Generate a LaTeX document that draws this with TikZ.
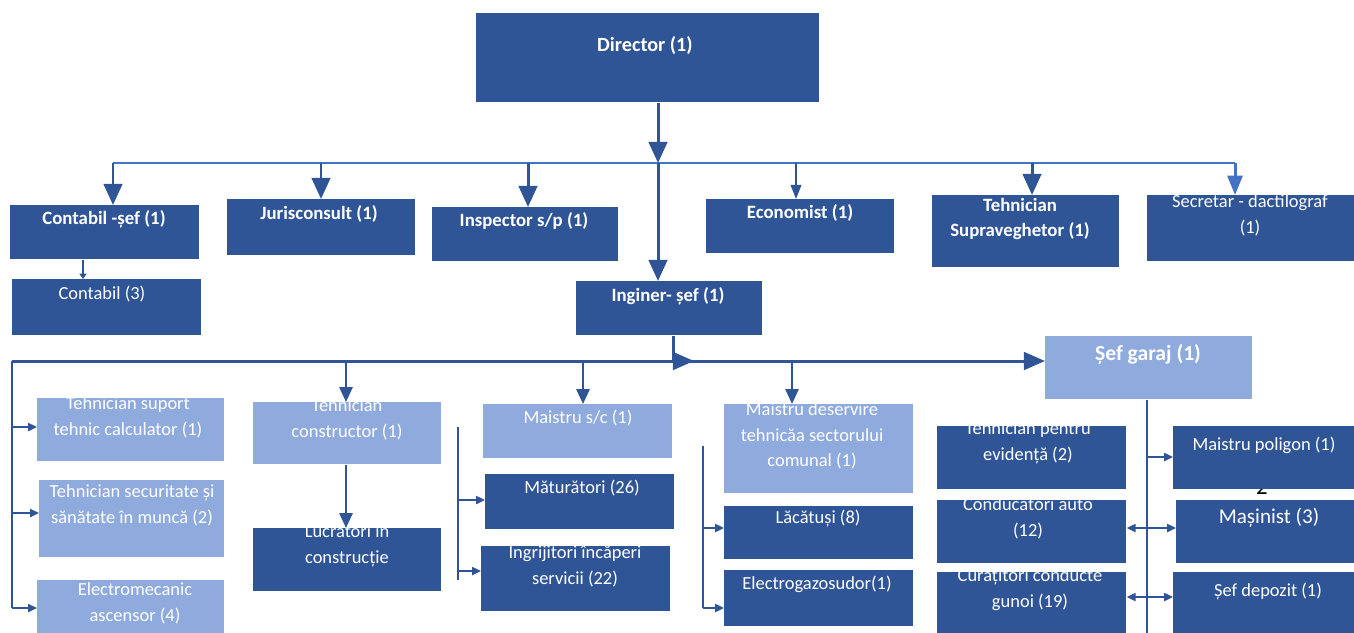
\documentclass[tikz,border=0pt]{standalone}
\usepackage{fontspec}
\setmainfont{Carlito}
\usetikzlibrary{arrows.meta}
\definecolor{dk}{RGB}{47,85,151}
\definecolor{lt}{RGB}{143,170,220}
\definecolor{ln}{RGB}{68,114,196}
\newcommand\bx[6]{\node[#1, anchor=north west, minimum width={(#5-#3)*0.02cm}, minimum height={(#6-#4)*0.02cm}] (#2) at (#3,#4) {};}
\newcommand\tx[5]{\node[#4] (#1) at (#2,#3) {#5};}
\tikzset{
  dbox/.style={fill=dk, draw=none, inner sep=0},
  lbox/.style={fill=lt, draw=none, inner sep=0},
  txt/.style={text=white, inner sep=0, align=center, font=\fontsize{10.5}{14.7}\selectfont},
  btxt/.style={txt, font=\bfseries\fontsize{10.7}{14.7}\selectfont},
  busA/.style={draw=ln, line width=1.5pt},
  big/.style={draw=dk, line width=1.7pt, -{Triangle[length=12pt,width=10.5pt]}},
  bigl/.style={draw=ln, line width=1.7pt, -{Triangle[length=11pt,width=8.5pt]}},
  med/.style={draw=dk, line width=1.3pt, -{Triangle[length=8.5pt,width=7.5pt]}},
  meds/.style={draw=dk, line width=1.1pt, -{Triangle[length=8pt,width=6pt]}},
  line3/.style={draw=dk, line width=1.7pt},
  line2/.style={draw=dk, line width=1.1pt},
  side/.style={draw=dk, line width=1.1pt, -{Triangle[length=5pt,width=4.5pt]}},
  tiny/.style={draw=dk, line width=0.8pt, -{Triangle[length=3pt,width=4pt]}},
}
\begin{document}
\begin{tikzpicture}[x=0.02cm,y=-0.02cm]
\useasboundingbox (0,0) rectangle (1354,632);
% stray page number (partly hidden)
\node[inner sep=0, font=\fontsize{13}{14}\selectfont, text=black] (two) at (1262,487) {2};
% boxes
\bx{dbox}{dir}{476}{13}{819}{102}
\bx{dbox}{csef}{10}{205}{199}{259}
\bx{dbox}{juris}{227}{199}{415}{255}
\bx{dbox}{insp}{432}{207}{618}{261}
\bx{dbox}{econ}{706}{199}{894}{253}
\bx{dbox}{tsupv}{932}{195}{1119}{267}
\bx{dbox}{secr}{1147}{195}{1360}{261}
\bx{dbox}{cont}{12}{279}{201}{335}
\bx{dbox}{ing}{576}{281}{762}{335}
\bx{lbox}{garaj}{1045}{336}{1252}{399}
\bx{lbox}{tsc}{37}{398}{224}{461}
\bx{lbox}{tss}{39}{480}{224}{557}
\bx{lbox}{elm}{37}{580}{224}{640}
\bx{lbox}{tcon}{253}{402}{441}{464}
\bx{dbox}{lucr}{253}{528}{441}{591}
\bx{lbox}{msc}{483}{404}{672}{458}
\bx{dbox}{mat}{485}{474}{674}{529}
\bx{dbox}{ingr}{481}{546}{670}{611}
\bx{lbox}{mds}{724}{404}{913}{493}
\bx{dbox}{lac}{724}{506}{913}{559}
\bx{dbox}{elec}{724}{570}{913}{626}
\bx{dbox}{tev}{937}{426}{1126}{489}
\bx{dbox}{cond}{937}{500}{1126}{563}
\bx{dbox}{cur}{937}{572}{1126}{640}
\bx{dbox}{mpol}{1173}{426}{1360}{489}
\bx{dbox}{mas}{1176}{500}{1360}{563}
\bx{dbox}{sdep}{1173}{572}{1360}{640}
% texts
\tx{t-dir}{645}{46}{btxt, font=\bfseries\fontsize{11.5}{14.7}\selectfont}{Director (1)}
\tx{t-csef}{104}{219}{btxt}{Contabil -șef (1)}
\tx{t-juris}{319}{214}{btxt}{Jurisconsult (1)}
\tx{t-insp}{524}{221}{btxt}{Inspector s/p (1)}
\tx{t-econ}{800}{213}{btxt}{Economist (1)}
\tx{t-tsupv}{1020}{219}{btxt}{Tehnician\\Supraveghetor (1)}
\tx{t-secr}{1250}{215}{txt}{Secretar - dactilograf\\(1)}
\tx{t-cont}{102}{294}{txt}{Contabil (3)}
\tx{t-ing}{668}{296}{btxt}{Inginer- șef (1)}
\tx{t-garaj}{1148}{354}{btxt, font=\bfseries\fontsize{12.3}{14.7}\selectfont}{Șef garaj (1)}
\tx{t-tsc}{128}{417}{txt}{Tehnician suport\\tehnic calculator (1)}
\tx{t-tss}{132}{505}{txt}{Tehnician securitate și\\sănătate în muncă (2)}
\tx{t-elm}{135}{603}{txt}{Electromecanic\\ascensor (4)}
\tx{t-tcon}{347}{419}{txt}{Tehnician\\constructor (1)}
\tx{t-lucr}{347}{546}{txt}{Lucrători în\\construcție}
\tx{t-msc}{578}{418}{txt}{Maistru s/c (1)}
\tx{t-mat}{582}{488}{txt}{Măturători (26)}
\tx{t-ingr}{575}{565}{txt}{Îngrijitori încăperi\\servicii (22)}
\tx{t-mds}{812}{436}{txt}{Maistru deservire\\tehnicăa sectorului\\comunal (1)}
\tx{t-lac}{818}{518}{txt}{Lăcătuși (8)}
\tx{t-elec}{817}{584}{txt}{Electrogazosudor(1)}
\tx{t-tev}{1028}{443}{txt}{Tehnician pentru\\evidență (2)}
\tx{t-cond}{1028}{518}{txt}{Conducători auto\\(12)}
\tx{t-cur}{1030}{590}{txt}{Curățitori conducte\\gunoi (19)}
\tx{t-mpol}{1264}{445}{txt}{Maistru poligon (1)}
\tx{t-mas}{1269}{518}{txt, font=\fontsize{12}{14.7}\selectfont}{Mașinist (3)}
\tx{t-sdep}{1268}{591}{txt}{Șef depozit (1)}
% top bus
\coordinate (bL) at (113,163);
\coordinate (bR) at (1235,163);
\coordinate (bD) at (658,163);
\coordinate (bJ) at (321,163);
\coordinate (bI) at (528,163);
\coordinate (bE) at (796,163);
\coordinate (bT) at (1032,163);
\draw[busA] (bL) -- (bR);
\draw[big] (bD |- dir.south) -- (bD);
\draw[big] (bL) -- (bL |- csef.north);
\draw[big] (bJ) -- (bJ |- juris.north);
\draw[big] (bI) -- (bI |- insp.north);
\draw[big] (bD) -- (bD |- ing.north);
\draw[meds] (bE) -- (bE |- econ.north);
\draw[big] (bT) -- (bT |- tsupv.north);
\draw[bigl] (bR) -- (bR |- secr.north);
\coordinate (cc) at (83,0);
\draw[tiny] (cc |- csef.south) -- (cc |- cont.north);
% second bus
\coordinate (b2L) at (12,361);
\coordinate (b2M) at (673,361);
\coordinate (b2A) at (694,361);
\draw[line3] (b2M |- ing.south) -- (b2M);
\draw[line3, -{Triangle[length=12pt,width=10pt]}] (b2L) -- (garaj.west |- b2L);
\draw[line3, -{Triangle[length=12pt,width=10pt]}] (b2M) -- (b2A);
% left column
\coordinate (lv) at (12,608);
\coordinate (l1) at (12,427);
\coordinate (l2) at (12,513);
\draw[line2] (b2L) -- (lv);
\draw[side] (l1) -- (l1 -| tsc.west);
\draw[side] (l2) -- (l2 -| tss.west);
\draw[side] (lv) -- (lv -| elm.west);
% column 2
\coordinate (c2) at (346,361);
\draw[med] (c2) -- (c2 |- tcon.north);
\draw[med] (c2 |- tcon.south) -- (c2 |- lucr.north);
% column 3
\coordinate (c3) at (583,361);
\draw[med] (c3) -- (c3 |- msc.north);
\coordinate (v3a) at (458,427);
\coordinate (v3b) at (458,580);
\coordinate (v3m) at (458,500);
\coordinate (v3i) at (458,571);
\draw[line2] (v3a) -- (v3b);
\draw[side] (v3m) -- (v3m -| mat.west);
\draw[side] (v3i) -- (v3i -| ingr.west);
% column 4
\coordinate (c4) at (792,361);
\draw[med] (c4) -- (c4 |- mds.north);
\coordinate (v4a) at (703,446);
\coordinate (v4b) at (703,608);
\coordinate (v4l) at (703,528);
\draw[line2] (v4a) -- (v4b);
\draw[side] (v4l) -- (v4l -| lac.west);
\draw[side] (v4b) -- (v4b -| elec.west);
% garaj column
\coordinate (gv) at (1147,640);
\coordinate (g1) at (1147,457);
\coordinate (g2) at (1147,528);
\coordinate (g3) at (1147,597);
\draw[line2] (gv |- garaj.south) -- (gv);
\draw[side] (g1) -- (g1 -| mpol.west);
\draw[side] (g2) -- (g2 -| mas.west);
\draw[side] (g3) -- (g3 -| sdep.west);
\draw[side] (g2) -- (g2 -| cond.east);
\draw[side] (g3) -- (g3 -| cur.east);
\end{tikzpicture}
\end{document}
